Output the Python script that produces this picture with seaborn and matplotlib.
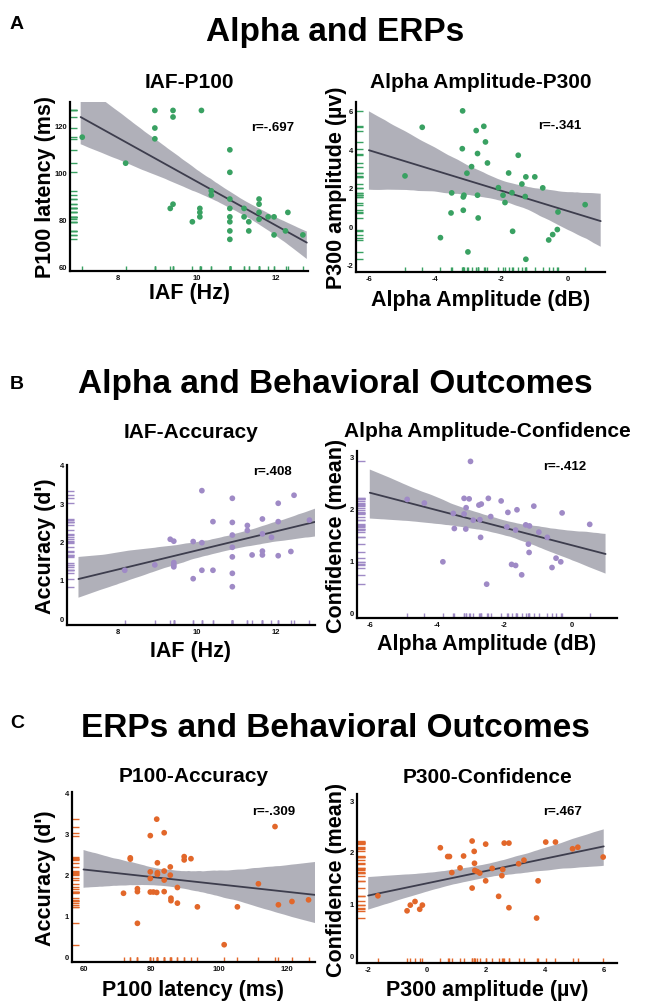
import pandas as pd
import seaborn as sns
import matplotlib.pyplot as plt
from matplotlib.collections import PolyCollection

# ---- values ----
# A left: IAF vs P100 latency
iaf_a = [7.09, 8.19, 8.93, 8.93, 8.93, 9.39, 9.39, 10.11, 9.32, 9.39, 9.88, 10.07, 10.07, 10.07,
         10.36, 10.36, 10.83, 10.83, 10.83, 10.83, 10.83, 10.83, 10.83, 10.83, 11.19, 11.19,
         11.31, 11.31, 11.57, 11.57, 11.57, 11.57, 11.80, 11.95, 11.95, 12.30, 12.24, 12.68]
p100_a = [115, 103.9, 126.4, 118.9, 114.3, 126.4, 123.6, 126.4, 84.6, 86.4, 78.9, 84.6, 82.9, 81.0,
          92.1, 90.3, 109.6, 100, 88.6, 84.6, 81.0, 78.9, 75.0, 71.4, 84.6, 81.0,
          78.9, 75.0, 88.6, 86.4, 82.9, 80.0, 81.0, 81.0, 73.3, 82.9, 75.0, 73.3]

# A right: alpha amplitude vs P300 amplitude
alpha_a = [-4.91, -4.39, -3.84, -3.52, -3.50, -3.17, -3.18, -3.15, -3.13, -3.15, -3.04, -3.01, -2.90,
           -2.76, -2.72, -2.72, -2.70, -2.53, -2.48, -2.42, -2.09, -1.95, -1.89, -1.78, -1.68, -1.66,
           -1.49, -1.38, -1.28, -1.26, -1.26, -0.99, -0.75, -0.57, -0.45, -0.31, -0.29, 0.53]
p300_a = [2.61, 5.13, -0.59, 0.69, 1.73, 5.98, 4.02, 1.52, 1.61, 0.83, 2.75, -1.33, 3.09,
          4.96, 3.77, 1.61, 0.43, 5.18, 4.37, 3.28, 2.00, 1.61, 1.23, 2.76, 1.74, -0.26,
          3.68, 2.19, 1.54, 2.56, -1.71, 2.56, 1.99, -0.71, -0.43, -0.17, 0.74, 1.12]

# B left: IAF vs accuracy (d')
iaf_b = [8.17, 8.93, 9.32, 9.41, 9.41, 9.41, 9.41, 9.90, 9.90, 10.12, 10.12, 10.12, 10.40, 10.40,
         10.89, 10.89, 10.89, 10.89, 10.89, 10.89, 10.89, 11.27, 11.27, 11.39, 11.65, 11.65, 11.65,
         11.65, 11.88, 12.05, 12.05, 12.05, 12.37, 12.45, 12.84]
acc_b = [1.25, 1.39, 2.06, 2.01, 1.45, 1.39, 1.34, 2.00, 1.03, 3.33, 1.97, 1.25, 2.52, 1.25,
         3.13, 2.50, 2.17, 1.85, 1.60, 1.17, 0.82, 2.42, 2.29, 1.65, 2.59, 2.20, 1.75,
         1.65, 2.11, 3.00, 2.52, 1.63, 1.74, 3.21, 2.56]

# B right: alpha amplitude vs confidence
alpha_b = [-4.89, -4.38, -3.83, -3.52, -3.49, -3.20, -3.05, -3.14, -3.20, -3.15, -3.01, -2.93, -2.76,
           -2.69, -2.73, -2.71, -2.53, -2.48, -2.41, -2.10, -1.93, -1.90, -1.79, -1.67, -1.67, -1.63,
           -1.49, -1.37, -1.26, -1.29, -1.27, -1.13, -0.98, -0.73, -0.59, -0.47, -0.33, -0.29, 0.53]
conf_b = [2.17, 2.10, 0.97, 1.90, 1.61, 2.19, 2.18, 2.01, 1.89, 1.60, 2.90, 1.77, 2.06,
          2.08, 1.78, 1.44, 0.54, 2.19, 1.84, 2.14, 1.64, 1.92, 0.92, 0.90, 1.58, 1.97,
          0.72, 1.68, 1.66, 1.31, 1.15, 2.04, 1.54, 1.44, 0.86, 1.04, 0.97, 1.91, 1.69]

# C left: P100 latency vs accuracy
p100_c = [71.8, 73.8, 73.8, 75.9, 75.9, 75.9, 79.7, 79.7, 79.7, 79.7, 80.6, 81.6, 81.6, 81.8, 81.8,
          81.8, 83.8, 83.8, 83.8, 83.8, 85.6, 85.6, 85.8, 85.8, 87.7, 87.7, 89.7, 89.7, 91.7, 93.6,
          101.5, 105.4, 111.6, 116.5, 117.5, 121.5, 126.4]
acc_c = [1.54, 2.40, 2.37, 1.65, 1.58, 0.81, 2.94, 2.06, 1.90, 1.57, 1.57, 1.56, 3.34, 2.28, 2.04,
         2.00, 3.01, 2.08, 1.86, 1.58, 2.18, 1.98, 1.42, 1.36, 1.68, 1.30, 2.43, 2.35, 2.38, 1.21,
         0.29, 1.21, 1.77, 3.16, 1.26, 1.34, 1.38]

# C right: P300 amplitude vs confidence
p300_c = [-1.67, -0.68, -0.57, -0.41, -0.25, -0.16, 0.45, 0.70, 0.76, 0.84, 1.12, 1.24, 1.53, 1.53,
          1.60, 1.61, 1.62, 1.70, 1.79, 1.99, 1.99, 2.21, 2.43, 2.54, 2.57, 2.62, 2.78, 2.78, 3.11,
          3.29, 3.72, 3.77, 4.03, 4.36, 4.94, 5.12, 5.98]
conf_c = [1.15, 0.86, 0.97, 1.04, 0.89, 0.97, 2.08, 1.91, 1.91, 1.60, 1.69, 1.92, 2.21, 1.30,
          2.01, 1.78, 1.64, 1.62, 1.59, 2.15, 1.44, 1.68, 1.14, 1.54, 1.66, 2.17, 2.17, 0.92, 1.77,
          1.84, 0.72, 1.44, 2.19, 2.19, 2.06, 2.09, 1.90]

r_labels = ['r=-.697', 'r=-.341', 'r=.408', 'r=-.412', 'r=-.309', 'r=.467']
section_titles = ['Alpha and ERPs', 'Alpha and Behavioral Outcomes', 'ERPs and Behavioral Outcomes']

green = '#39a162'
purple = '#9f8ac6'
orange = '#e2672a'
band = '#a8a8b2'
line_col = '#3d3d4d'

W, H = 645, 1003
sns.set_theme(style='white')
plt.rcParams['font.family'] = ['Liberation Sans', 'DejaVu Sans']
plt.rcParams['axes.unicode_minus'] = False
plt.rcParams['text.color'] = 'black'
plt.rcParams['axes.labelcolor'] = 'black'

fig = plt.figure(figsize=(W / 100, H / 100), dpi=100)

# box = (left, top, right, bottom) in pixels
panels = [
    dict(x=iaf_a, y=p100_a, c=green, box=(70, 103, 308, 272), xlim=(6.78, 12.81), ylim=(57.9, 130),
         fit=(7.05, 12.78), xt=[8, 10, 12], yt=[60, 80, 100, 120], title='IAF-P100', tb=88,
         xl='IAF (Hz)', xtop=283, yl='P100 latency (ms)', yr=56, rpos=(0.85, 0.85)),
    dict(x=alpha_a, y=p300_a, c=green, box=(356, 103, 605, 273), xlim=(-6.39, 1.13), ylim=(-2.37, 6.44),
         fit=(-6, 1), xt=[-6, -4, -2, 0], yt=[-2, 0, 2, 4, 6], title='Alpha Amplitude-P300', tb=88,
         xl='Alpha Amplitude (dB)', xtop=290, yl='P300 amplitude (µv)', yr=347, rpos=(0.82, 0.865)),
    dict(x=iaf_b, y=acc_b, c=purple, box=(67, 466, 315, 626), xlim=(6.71, 12.98), ylim=(-0.18, 4.0),
         fit=(7, 12.98), xt=[8, 10, 12], yt=[0, 1, 2, 3, 4], title='IAF-Accuracy', tb=438,
         xl='IAF (Hz)', xtop=641, yl="Accuracy (d')", yr=56, rpos=(0.83, 0.96)),
    dict(x=alpha_b, y=conf_b, c=purple, box=(357, 452, 617, 619), xlim=(-6.38, 1.34), ylim=(-0.11, 3.1),
         fit=(-6, 1), xt=[-6, -4, -2, 0], yt=[0, 1, 2, 3], title='Alpha Amplitude-Confidence', tb=437,
         xl='Alpha Amplitude (dB)', xtop=634, yl='Confidence (mean)', yr=347, rpos=(0.80, 0.91)),
    dict(x=p100_c, y=acc_c, c=orange, box=(72, 793, 315, 963), xlim=(56.6, 128.3), ylim=(-0.13, 3.93),
         fit=(60, 128.3), xt=[60, 80, 100, 120], yt=[0, 1, 2, 3, 4], title='P100-Accuracy', tb=782,
         xl='P100 latency (ms)', xtop=980, yl="Accuracy (d')", yr=56, rpos=(0.83, 0.89)),
    dict(x=p300_c, y=conf_c, c=orange, box=(357, 795, 617, 964), xlim=(-2.38, 6.45), ylim=(-0.15, 3.12),
         fit=(-2, 6), xt=[-2, 0, 2, 4, 6], yt=[0, 1, 2, 3], title='P300-Confidence', tb=783,
         xl='P300 amplitude (µv)', xtop=980, yl='Confidence (mean)', yr=347, rpos=(0.79, 0.90)),
]

for p, r_txt in zip(panels, r_labels):
    x0, y0, x1, y1 = p['box']
    ax = fig.add_axes([x0 / W, 1 - y1 / H, (x1 - x0) / W, (y1 - y0) / H])
    df = pd.DataFrame({'x': p['x'], 'y': p['y']})

    # regression line over the fitted range, then widen the axes
    ax.set_xlim(*p['fit'])
    sns.regplot(data=df, x='x', y='y', ax=ax, scatter=False, truncate=False, seed=0,
                line_kws=dict(color=line_col, lw=1.3, zorder=2))
    for coll in ax.collections:
        if isinstance(coll, PolyCollection):
            coll.set_facecolor(band)
            coll.set_edgecolor('none')
            coll.set_alpha(0.9)
            coll.set_zorder(1)
    sns.scatterplot(data=df, x='x', y='y', ax=ax, color=p['c'], s=17, edgecolor='none', zorder=3)
    sns.rugplot(data=df, x='x', y='y', ax=ax, height=0.03, color=p['c'], lw=1.0, expand_margins=False)

    ax.set_xlim(*p['xlim'])
    ax.set_ylim(*p['ylim'])
    ax.set_xticks(p['xt'])
    ax.set_yticks(p['yt'])
    ax.tick_params(length=0, pad=2, labelsize=5.5, colors='#111111')
    for lab in ax.get_xticklabels() + ax.get_yticklabels():
        lab.set_fontweight('bold')
    sns.despine(ax=ax)
    for s in ['left', 'bottom']:
        ax.spines[s].set_linewidth(1.6)
        ax.spines[s].set_color('black')

    ax.set_title(p['title'], fontsize=15, fontweight='bold', pad=(y0 - p['tb']) * 0.72)
    ax.set_xlabel(p['xl'], fontsize=15.5, fontweight='bold')
    ax.xaxis.set_label_coords(0.5, -(p['xtop'] - y1) / (y1 - y0))
    ax.set_ylabel(p['yl'], fontsize=15.5, fontweight='bold')
    ax.yaxis.set_label_coords(-(x0 - p['yr']) / (x1 - x0), 0.5)
    ax.text(p['rpos'][0], p['rpos'][1], r_txt, transform=ax.transAxes, ha='center', va='center',
            fontsize=9.5, fontweight='bold')

# section headers and panel letters
for letter, title, base, lbase in zip('ABC', section_titles, [41, 393, 737], [29, 389, 728]):
    fig.text(335 / W, 1 - base / H, title, ha='center', va='baseline', fontsize=24, fontweight='bold')
    fig.text(10 / W, 1 - lbase / H, letter, ha='left', va='baseline', fontsize=14, fontweight='bold')

fig.savefig('out.png', dpi=100)
